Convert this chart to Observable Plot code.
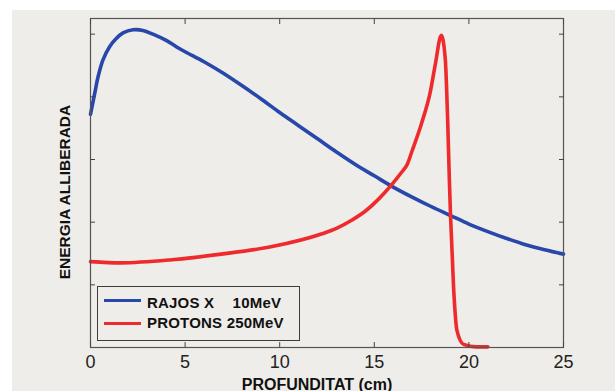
<!DOCTYPE html>
<html>
<head>
<meta charset="utf-8">
<script src="https://cdn.jsdelivr.net/npm/d3@7"></script>
<script src="https://cdn.jsdelivr.net/npm/@observablehq/plot@0.6"></script>
<style>
  html, body { margin: 0; padding: 0; background: #ffffff; }
  #wrap { position: relative; width: 615px; height: 391px; overflow: hidden; }
  #bg { position: absolute; left: 12px; top: 10px; right: 0; bottom: 0; background: #eeede9; }
  #chart { position: absolute; left: 0; top: 0; }
  #legend { position: absolute; left: 97px; top: 286px; width: 203px; height: 55px; box-sizing: border-box;
            border: 1.5px solid #3c3c3c; background: #eeede9; font-family: "Liberation Sans", Arial, sans-serif; }
  .sw { position: absolute; left: 6px; width: 37px; height: 3.6px; }
  .lt { position: absolute; left: 49px; font-size: 15px; line-height: 15px; font-weight: bold; color: #111;
        white-space: pre; letter-spacing: 0.2px; }
  .gap { letter-spacing: 5px; }
</style>
</head>
<body>
<div id="wrap">
  <div id="bg"></div>
  <div id="chart"></div>
  <div id="legend"></div>
</div>
<script>
// Depth (cm) and released energy (arbitrary units) for each beam
const xrayDepth  = [0, 0.22, 0.4, 0.66, 1.01, 1.36, 1.72, 2.25, 2.77, 3.3, 4.0, 4.53, 5, 6, 7, 8, 9, 10, 11, 12, 13, 14, 15, 16, 17, 18, 19, 20, 21, 22, 23, 24, 25];
const xrayEnergy = [3.72, 4.05, 4.32, 4.59, 4.80, 4.93, 5.02, 5.07, 5.06, 5.00, 4.90, 4.80, 4.72, 4.56, 4.38, 4.18, 3.97, 3.75, 3.54, 3.33, 3.12, 2.92, 2.74, 2.56, 2.40, 2.25, 2.11, 1.97, 1.85, 1.74, 1.64, 1.56, 1.49];

const protonDepth  = [0, 1.6, 4.3, 6.9, 9.6, 12.2, 13.0, 13.8, 14.5, 15.2, 15.9, 16.4, 16.75, 17.0, 17.5, 17.96, 18.22, 18.54, 18.75, 18.88, 18.97, 19.03, 19.19, 19.37, 19.72, 20.4, 21.0];
const protonEnergy = [1.37, 1.35, 1.40, 1.49, 1.61, 1.81, 1.90, 2.03, 2.17, 2.36, 2.59, 2.78, 2.93, 3.14, 3.58, 4.08, 4.51, 4.98, 4.61, 3.60, 2.65, 2.10, 0.96, 0.27, 0.05, 0.01, 0.01];

const seriesNames  = ["RAJOS X  10MeV", "PROTONS 250MeV"];
const seriesColors = ["#2747ab", "#ee2a2c"];

const xTicks = [0, 5, 10, 15, 20, 25];
const yTicks = [1, 2, 3, 4, 5];
const xLabel = "PROFUNDITAT (cm)";
const yLabel = "ENERGIA ALLIBERADA";

const xray   = xrayDepth.map((d, i) => ({depth: d, energy: xrayEnergy[i]}));
const proton = protonDepth.map((d, i) => ({depth: d, energy: protonEnergy[i]}));

const font = "'Liberation Sans', Arial, sans-serif";
const chart = Plot.plot({
  width: 615,
  height: 391,
  marginLeft: 90,
  marginRight: 52,
  marginTop: 18,
  marginBottom: 44,
  style: {background: "transparent", fontFamily: font, overflow: "visible"},
  x: {domain: [0, 25]},
  y: {domain: [0, 5.25]},
  marks: [
    Plot.line(xray, {x: "depth", y: "energy", stroke: seriesColors[0], strokeWidth: 3.6, curve: "catmull-rom"}),
    Plot.line(proton, {x: "depth", y: "energy", stroke: seriesColors[1], strokeWidth: 3.6, curve: "monotone-x"}),
    Plot.frame({stroke: "#555", strokeWidth: 1.2}),
    Plot.axisX(xTicks, {anchor: "bottom", tickSize: -5, tickFormat: () => "", stroke: "#444", label: null}),
    Plot.axisX(xTicks, {anchor: "top", tickSize: -5, tickFormat: () => "", stroke: "#444", label: null}),
    Plot.axisX(xTicks, {anchor: "bottom", tickSize: 0, tickPadding: 8, fontSize: 18, fill: "#222", label: null}),
    Plot.axisY(yTicks, {anchor: "left", tickSize: -5, tickFormat: () => "", stroke: "#444", label: null}),
    Plot.axisY(yTicks, {anchor: "right", tickSize: -5, tickFormat: () => "", stroke: "#444", label: null}),
    Plot.text([xLabel], {frameAnchor: "bottom", textAnchor: "middle", dx: -10, dy: 42, lineAnchor: "bottom", fontSize: 16, fontWeight: "bold", fill: "#111"}),
    Plot.text([yLabel], {frameAnchor: "left", textAnchor: "middle", dx: -25, dy: 9, rotate: -90, fontSize: 15.5, fontWeight: "bold", fill: "#111"})
  ]
});
document.getElementById("chart").appendChild(chart);

const legend = document.getElementById("legend");
const rows = [{sw: 11.5, tx: 7.5}, {sw: 34.5, tx: 27.5}];
seriesNames.forEach((name, i) => {
  const sw = document.createElement("div");
  sw.className = "sw";
  sw.style.top = rows[i].sw + "px";
  sw.style.background = seriesColors[i];
  legend.appendChild(sw);
  const t = document.createElement("div");
  t.className = "lt";
  t.style.top = rows[i].tx + "px";
  const parts = name.split("  ");
  parts.forEach((p, j) => {
    if (j > 0) {
      const g = document.createElement("span");
      g.className = "gap";
      g.textContent = "  ";
      t.appendChild(g);
    }
    t.appendChild(document.createTextNode(p));
  });
  legend.appendChild(t);
});
</script>
</body>
</html>
